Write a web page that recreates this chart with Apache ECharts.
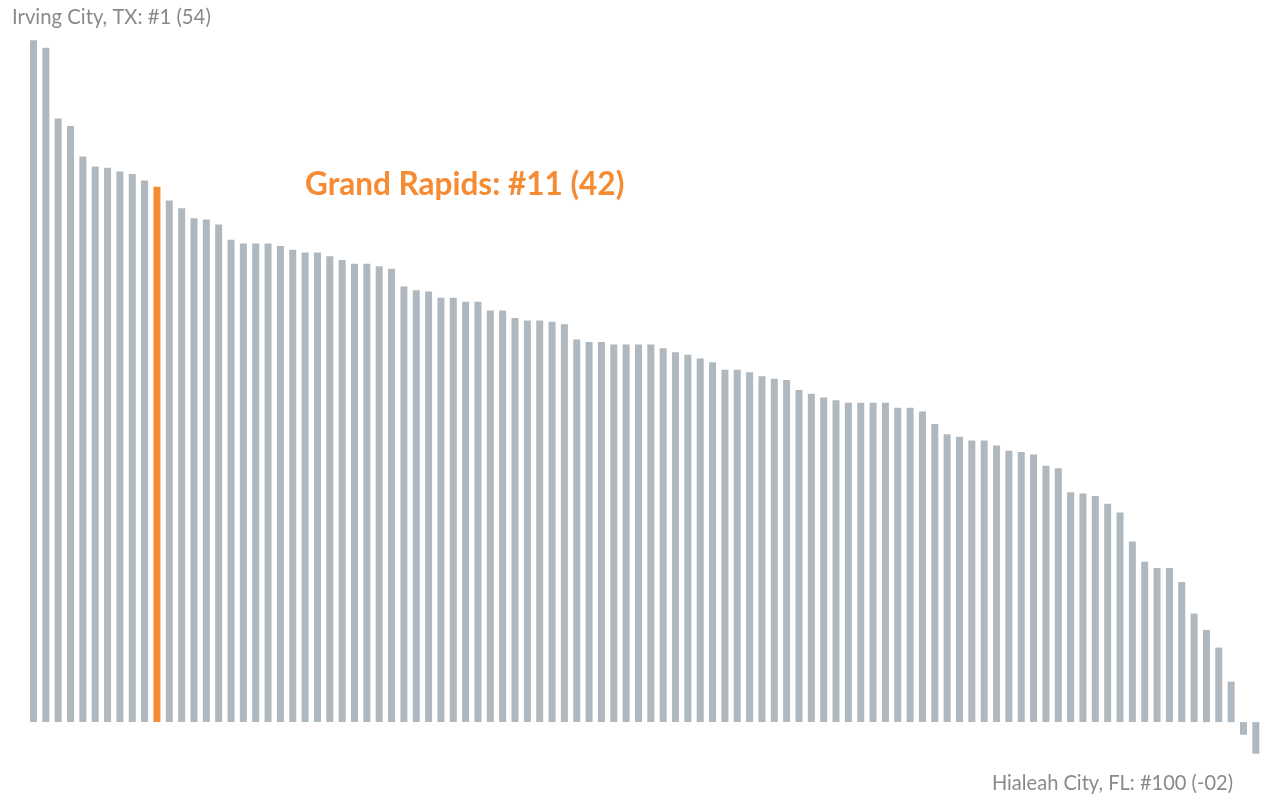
<!DOCTYPE html>
<html>
<head>
<meta charset="utf-8">
<script src="https://cdn.jsdelivr.net/npm/echarts@6/dist/echarts.min.js"></script>
<style>
html,body{margin:0;padding:0;background:#fff;}
#chart{width:1262px;height:797px;}
</style>
</head>
<body>
<div id="chart"></div>
<script>
// Ranked cities (1 = highest)
const ranks = ["#1","#2","#3","#4","#5","#6","#7","#8","#9","#10",
"#11","#12","#13","#14","#15","#16","#17","#18","#19","#20",
"#21","#22","#23","#24","#25","#26","#27","#28","#29","#30",
"#31","#32","#33","#34","#35","#36","#37","#38","#39","#40",
"#41","#42","#43","#44","#45","#46","#47","#48","#49","#50",
"#51","#52","#53","#54","#55","#56","#57","#58","#59","#60",
"#61","#62","#63","#64","#65","#66","#67","#68","#69","#70",
"#71","#72","#73","#74","#75","#76","#77","#78","#79","#80",
"#81","#82","#83","#84","#85","#86","#87","#88","#89","#90",
"#91","#92","#93","#94","#95","#96","#97","#98","#99","#100"];

const values = [54.0, 53.4, 47.8, 47.2, 44.8, 44.0, 43.9, 43.6, 43.4, 42.9,
42.4, 41.3, 40.7, 39.9, 39.8, 39.4, 38.2, 37.9, 37.9, 37.9,
37.7, 37.4, 37.2, 37.2, 36.9, 36.6, 36.3, 36.3, 36.1, 35.9,
34.5, 34.2, 34.1, 33.6, 33.6, 33.3, 33.3, 32.6, 32.6, 32.0,
31.8, 31.8, 31.7, 31.5, 30.3, 30.1, 30.1, 29.9, 29.9, 29.9,
29.9, 29.6, 29.3, 29.1, 28.8, 28.5, 27.9, 27.9, 27.7, 27.4,
27.2, 27.1, 26.3, 26.0, 25.7, 25.5, 25.3, 25.3, 25.3, 25.3,
24.9, 24.9, 24.6, 23.6, 22.8, 22.6, 22.3, 22.3, 21.9, 21.5,
21.4, 21.2, 20.3, 20.1, 18.2, 18.1, 17.9, 17.3, 16.6, 14.3,
12.7, 12.2, 12.2, 11.1, 8.6, 7.3, 5.9, 3.2, -1.0, -2.5];

const highlightIndex = 10;
const topLabel = "Irving City, TX: #1 (54)";
const highlightLabel = "Grand Rapids: #11 (42)";
const bottomLabel = "Hialeah City, FL: #100 (-02)";

const GRAY = "#aeb8be";
const ORANGE = "#f68b33";
const TEXT_GRAY = "#8a8a8a";

const chart = echarts.init(document.getElementById('chart'));
chart.setOption({
  animation: false,
  backgroundColor: "#ffffff",
  grid: { left: 27.3, width: 1235.4, top: 15, height: 745, containLabel: false },
  xAxis: {
    type: 'category', data: ranks, show: false, boundaryGap: true
  },
  yAxis: {
    type: 'value', min: -3, max: 56, show: false, splitLine: { show: false }
  },
  series: [{
    type: 'bar',
    barWidth: 7,
    data: values.map((v, i) => ({
      value: v,
      itemStyle: i === highlightIndex
        ? { color: ORANGE, borderColor: ORANGE, borderWidth: 2.5 }
        : { color: GRAY }
    })),
    silent: true
  }],
  graphic: [
    { type: 'text', x: 12, y: 17, scaleX: 0.965,
      style: { text: topLabel, fill: TEXT_GRAY, font: '21px Lato', textAlign: 'left', textVerticalAlign: 'middle' } },
    { type: 'text', x: 305, y: 184, scaleX: 0.955,
      style: { text: highlightLabel, fill: ORANGE, font: 'bold 33px Lato', textAlign: 'left', textVerticalAlign: 'middle' } },
    { type: 'text', x: 1233, y: 783, scaleX: 0.955,
      style: { text: bottomLabel, fill: TEXT_GRAY, font: '21px Lato', textAlign: 'right', textVerticalAlign: 'middle' } }
  ]
});
</script>
</body>
</html>
